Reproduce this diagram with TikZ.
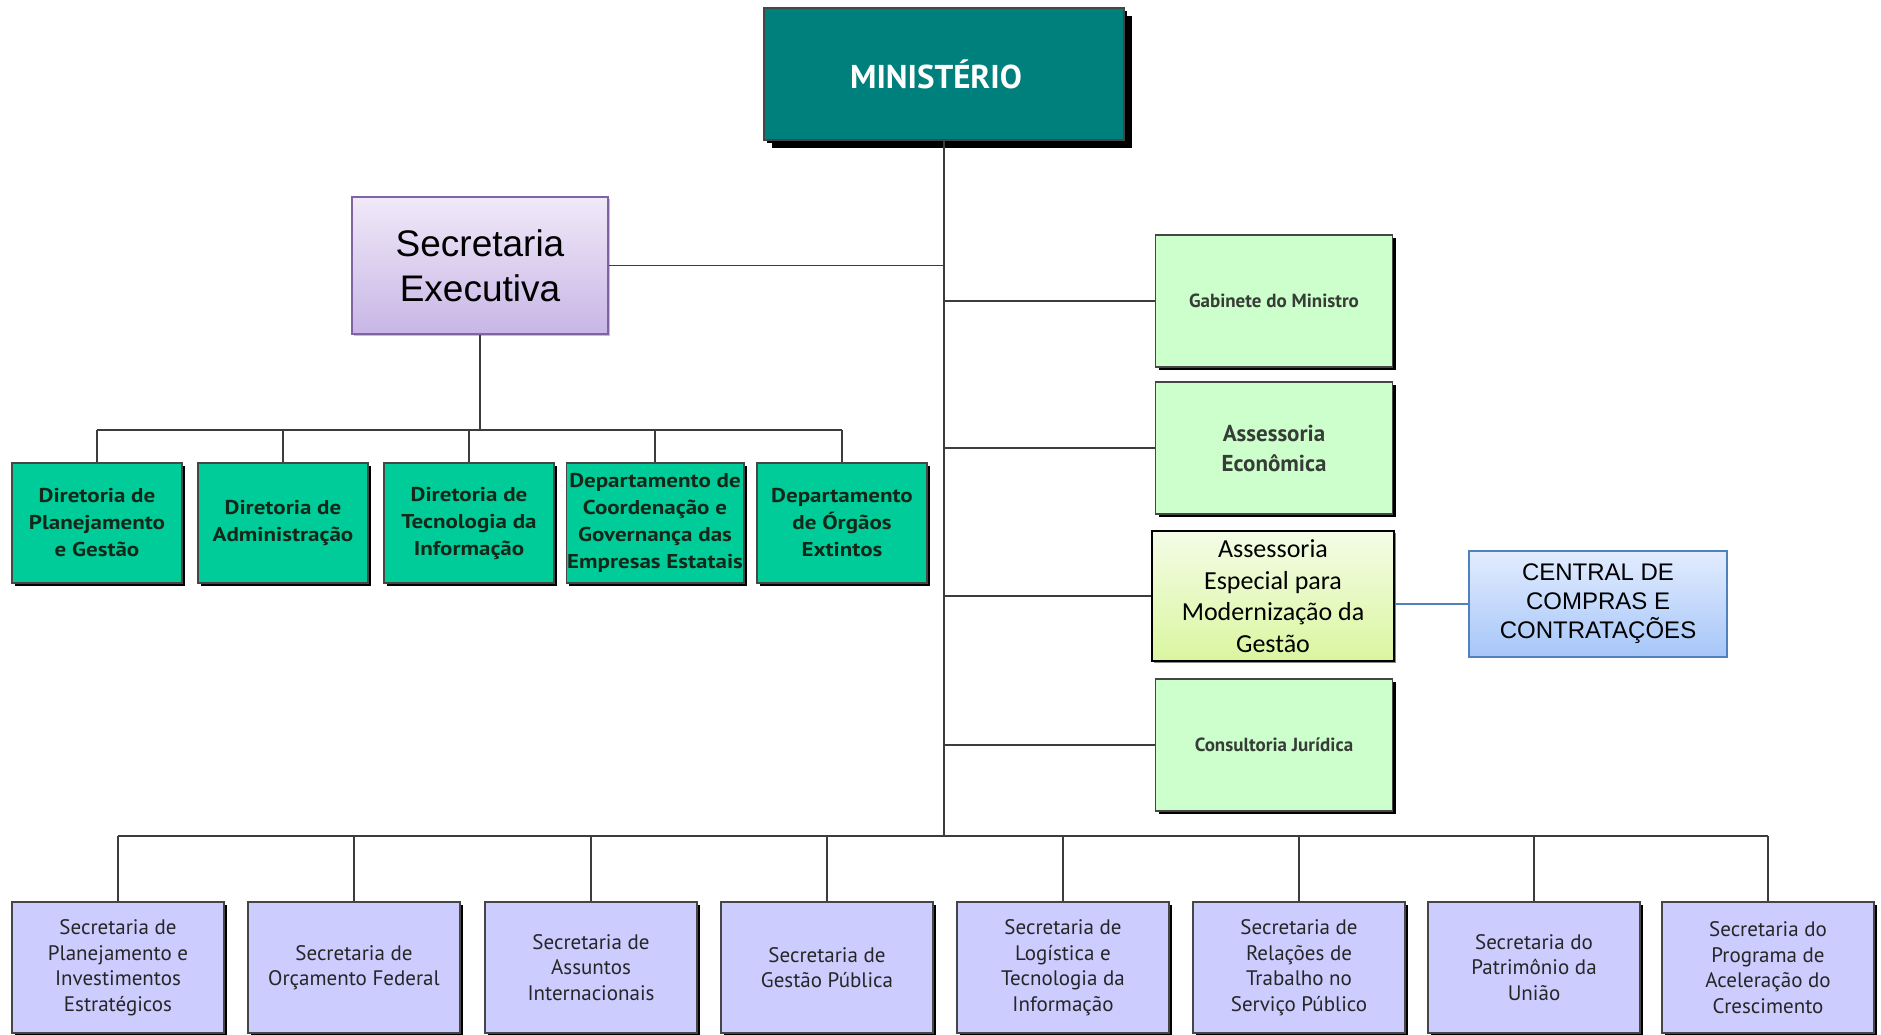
\documentclass[tikz,border=0pt]{standalone}
\usepackage{fontspec}
\setmainfont{PT Sans}
\newfontfamily\widebold[FakeStretch=1.15]{PT Sans}
\newfontfamily\arialf{Liberation Sans}
\newfontfamily\calibf{Carlito}
\usetikzlibrary{shadows}
\definecolor{minfill}{RGB}{0,128,124}
\definecolor{dgreen}{RGB}{0,204,153}
\definecolor{lgreen}{RGB}{204,255,204}
\definecolor{lav}{RGB}{204,204,255}
\definecolor{linec}{RGB}{60,60,60}
\definecolor{boxedge}{RGB}{70,70,70}
\definecolor{seedge}{RGB}{128,100,162}
\definecolor{setop}{RGB}{240,233,248}
\definecolor{sebot}{RGB}{200,182,230}
\definecolor{aetop}{RGB}{244,252,230}
\definecolor{aebot}{RGB}{218,246,160}
\definecolor{cctop}{RGB}{226,236,255}
\definecolor{ccbot}{RGB}{166,198,248}
\definecolor{ccedge}{RGB}{79,129,189}
\definecolor{dtext}{RGB}{20,40,25}
\definecolor{gtext}{RGB}{55,60,55}
\begin{document}
\begin{tikzpicture}[x=1pt,y=-1pt,
  conn/.style={draw=linec, line width=1.8pt},
  oldbox/.style={draw=boxedge, line width=1.2pt, align=center, inner sep=1pt,
    drop shadow={shadow xshift=3pt, shadow yshift=-3pt, fill=black, opacity=1}},
  minbox/.style={oldbox, fill=minfill, minimum width=360, minimum height=132,
    text=white, font=\bfseries\fontsize{33}{38}\selectfont,
    drop shadow={shadow xshift=8pt, shadow yshift=-8pt, fill=black, opacity=1}},
  dirbox/.style={oldbox, fill=dgreen, minimum width=170, minimum height=120,
    text=dtext, font=\widebold\bfseries\fontsize{20}{27}\selectfont},
  assbox/.style={oldbox, fill=lgreen, minimum width=237, minimum height=132,
    text=gtext, font=\bfseries\fontsize{19}{26}\selectfont},
  secbox/.style={oldbox, fill=lav, minimum width=212, minimum height=131,
    text=black!85, font=\fontsize{21}{25.5}\selectfont},
  sebox/.style={draw=seedge, line width=1.2pt, top color=setop, bottom color=sebot,
    minimum width=256, minimum height=137, align=center,
    font=\arialf\fontsize{37}{45}\selectfont,
    drop shadow={shadow xshift=2pt, shadow yshift=-2pt, fill=black!40, opacity=0.6}},
  aembox/.style={draw=black, line width=2pt, top color=aetop, bottom color=aebot,
    minimum width=242, minimum height=130, align=center, inner sep=1pt,
    font=\calibf\fontsize{26}{31.5}\selectfont,
    drop shadow={shadow xshift=2pt, shadow yshift=-2pt, fill=black!60, opacity=0.8}},
  ccbox/.style={draw=ccedge, line width=1.2pt, top color=cctop, bottom color=ccbot,
    minimum width=258, minimum height=106, align=center,
    font=\arialf\fontsize{24}{29}\selectfont}
]
\useasboundingbox (0,0) rectangle (1881,1035);

% nodes
\node[minbox] (min) at (944,74) {MINISTÉRIO\hspace*{16pt}};
\node[sebox] (se) at (480,265.5) {Secretaria\\Executiva};

\node[dirbox] (d1) at (97,523) {Diretoria de\\Planejamento\\e Gestão};
\node[dirbox] (d2) at (283,523) {Diretoria de\\Administração};
\node[dirbox] (d3) at (469,523) {Diretoria de\\Tecnologia da\\Informação};
\node[dirbox] (d4) at (655,523) {Departamento de\\Coordenação e\\Governança das\\Empresas Estatais};
\node[dirbox] (d5) at (842,523) {Departamento\\de Órgãos\\Extintos};

\node[assbox] (gab) at (1274,301) {Gabinete do Ministro};
\node[assbox, font=\bfseries\fontsize{23}{30}\selectfont] (aec) at (1274,448) {Assessoria\\Econômica};
\node[aembox] (aem) at (1273,596) {Assessoria\\Especial para\\Modernização da\\Gestão};
\node[assbox] (cj) at (1274,745) {Consultoria Jurídica};
\node[ccbox] (cc) at (1598,604) {CENTRAL DE\\COMPRAS E\\CONTRATAÇÕES};

\node[secbox] (s1) at (118,967.5) {Secretaria de\\Planejamento e\\Investimentos\\Estratégicos};
\node[secbox] (s2) at (354,967.5) {Secretaria de\\Orçamento Federal};
\node[secbox] (s3) at (591,967.5) {Secretaria de\\Assuntos\\Internacionais};
\node[secbox] (s4) at (827,967.5) {Secretaria de\\Gestão Pública};
\node[secbox] (s5) at (1063,967.5) {Secretaria de\\Logística e\\Tecnologia da\\Informação};
\node[secbox] (s6) at (1299,967.5) {Secretaria de\\Relações de\\Trabalho no\\Serviço Público};
\node[secbox] (s7) at (1534,967.5) {Secretaria do\\Patrimônio da\\União};
\node[secbox] (s8) at (1768,967.5) {Secretaria do\\Programa de\\Aceleração do\\Crescimento};

\coordinate (bus1) at (469,430);
\coordinate (bus2) at (943,836);

% connectors
\draw[conn] (min.south) -- (min.south |- bus2);
\draw[conn] (se.east) -- (se.east -| min.south);
\draw[conn] (min.south |- gab.west) -- (gab.west);
\draw[conn] (min.south |- aec.west) -- (aec.west);
\draw[conn] (min.south |- aem.west) -- (aem.west);
\draw[conn] (min.south |- cj.west) -- (cj.west);
\draw[draw=ccedge, line width=1.4pt] (aem.east |- cc.west) -- (cc.west);

\draw[conn] (se.south) -- (se.south |- bus1);
\draw[conn] (d1.north |- bus1) -- (d5.north |- bus1);
\foreach \n in {d1,d2,d3,d4,d5} \draw[conn] (\n.north |- bus1) -- (\n.north);

\draw[conn] (s1.north |- bus2) -- (s8.north |- bus2);
\foreach \n in {s1,s2,s3,s4,s5,s6,s7,s8} \draw[conn] (\n.north |- bus2) -- (\n.north);
\end{tikzpicture}
\end{document}
